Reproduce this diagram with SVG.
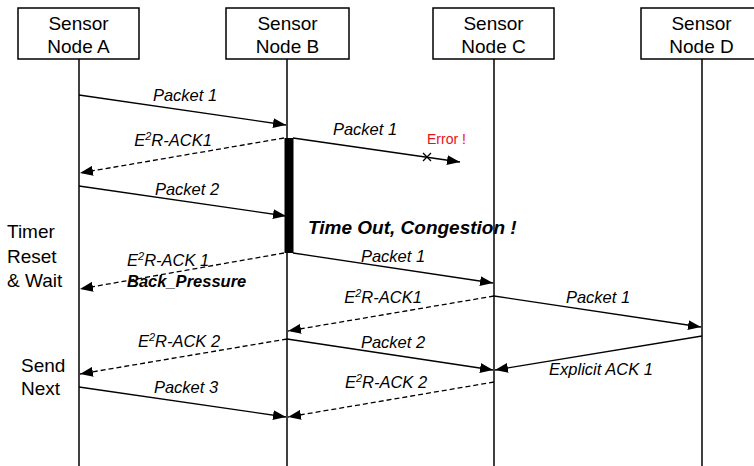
<svg xmlns="http://www.w3.org/2000/svg" width="754" height="466" viewBox="0 0 754 466">
<defs>
<marker id="ah" markerUnits="userSpaceOnUse" markerWidth="14" markerHeight="10" refX="13" refY="5" orient="auto">
<path d="M0,0 L13,5 L0,10 Z" fill="#000"/>
</marker>
<style>
.box{fill:#fff;stroke:#000;stroke-width:1.5}
.life{stroke:#000;stroke-width:1.5}
.hd{font-family:"Liberation Sans",Arial,sans-serif;font-size:19px;text-anchor:middle;fill:#000}
.side{font-family:"Liberation Sans",Arial,sans-serif;font-size:19px;fill:#000}
.lbl{font-family:"Liberation Sans",Arial,sans-serif;font-size:16.5px;font-style:italic;text-anchor:middle;fill:#000}
.sup{font-size:11px}
.msg{stroke:#000;stroke-width:1.3;fill:none;marker-end:url(#ah)}
.dash{stroke-dasharray:5 3}
.bold{font-family:"Liberation Sans",Arial,sans-serif;font-weight:bold;font-style:italic;fill:#000}
</style>
</defs>
<rect width="754" height="466" fill="#fff"/>

<g id="nodeA">
<line class="life" x1="79" y1="59" x2="79" y2="466"/>
<rect class="box" x="18" y="8" width="121" height="51"/>
<text class="hd" x="78.5" y="30">Sensor</text>
<text class="hd" x="78.5" y="53">Node A</text>
</g>
<g id="nodeB">
<line class="life" x1="287" y1="59" x2="287" y2="466"/>
<rect class="box" x="226" y="8" width="123" height="51"/>
<text class="hd" x="287.5" y="30">Sensor</text>
<text class="hd" x="287.5" y="53">Node B</text>
<rect id="activation" x="284.5" y="138" width="9" height="115" fill="#000"/>
</g>
<g id="nodeC">
<line class="life" x1="494" y1="59" x2="494" y2="466"/>
<rect class="box" x="433" y="8" width="121" height="51"/>
<text class="hd" x="493.5" y="30">Sensor</text>
<text class="hd" x="493.5" y="53">Node C</text>
</g>
<g id="nodeD">
<line class="life" x1="702" y1="59" x2="702" y2="466"/>
<rect class="box" x="641" y="8" width="122" height="51"/>
<text class="hd" x="701.5" y="30">Sensor</text>
<text class="hd" x="701.5" y="53">Node D</text>
</g>

<g id="connectors">
<line class="msg" x1="79" y1="95" x2="286" y2="125"/>
<line class="msg dash" x1="284" y1="138" x2="80" y2="173"/>
<line class="msg" x1="293" y1="138" x2="460" y2="162"/>
<path d="M423,153 L431,161 M431,153 L423,161" stroke="#000" stroke-width="1.3"/>
<line class="msg" x1="79" y1="186" x2="286" y2="216"/>
<line class="msg dash" x1="284" y1="253" x2="80" y2="289"/>
<line class="msg" x1="293" y1="253" x2="493" y2="283"/>
<line class="msg dash" x1="494" y1="296" x2="288" y2="331"/>
<line class="msg" x1="494" y1="296" x2="701" y2="327"/>
<line class="msg dash" x1="287" y1="339" x2="80" y2="374"/>
<line class="msg" x1="287" y1="339" x2="493" y2="370"/>
<line class="msg" x1="702" y1="336" x2="495" y2="370"/>
<line class="msg dash" x1="494" y1="382" x2="288" y2="417"/>
<line class="msg" x1="79" y1="387" x2="286" y2="417"/>
</g>

<g id="labels">
<text class="lbl" x="185" y="101">Packet 1</text>
<text class="lbl" x="173" y="146">E<tspan class="sup" dy="-6">2</tspan><tspan dy="6">R-ACK1</tspan></text>
<text class="lbl" x="365" y="135">Packet 1</text>
<text x="427" y="144" font-family="'Liberation Sans',Arial,sans-serif" font-size="14" fill="#e8101a">Error !</text>
<text class="lbl" x="187" y="195">Packet 2</text>
<text class="bold" x="308" y="234" font-size="19">Time Out, Congestion !</text>
<text class="lbl" x="127" y="266" text-anchor="start" style="text-anchor:start">E<tspan class="sup" dy="-6">2</tspan><tspan dy="6">R-ACK 1</tspan></text>
<text class="bold" x="127" y="287" font-size="16.5">Back_Pressure</text>
<text class="lbl" x="393" y="262">Packet 1</text>
<text class="lbl" x="383" y="303">E<tspan class="sup" dy="-6">2</tspan><tspan dy="6">R-ACK1</tspan></text>
<text class="lbl" x="598" y="303">Packet 1</text>
<text class="lbl" x="179" y="347">E<tspan class="sup" dy="-6">2</tspan><tspan dy="6">R-ACK 2</tspan></text>
<text class="lbl" x="393" y="348">Packet 2</text>
<text class="lbl" x="601" y="375">Explicit ACK 1</text>
<text class="lbl" x="386" y="388">E<tspan class="sup" dy="-6">2</tspan><tspan dy="6">R-ACK 2</tspan></text>
<text class="lbl" x="186" y="393">Packet 3</text>
<text class="side" x="7" y="238">Timer</text>
<text class="side" x="7" y="263">Reset</text>
<text class="side" x="7" y="287">&amp; Wait</text>
<text class="side" x="21" y="372">Send</text>
<text class="side" x="21" y="395">Next</text>
</g>
</svg>
